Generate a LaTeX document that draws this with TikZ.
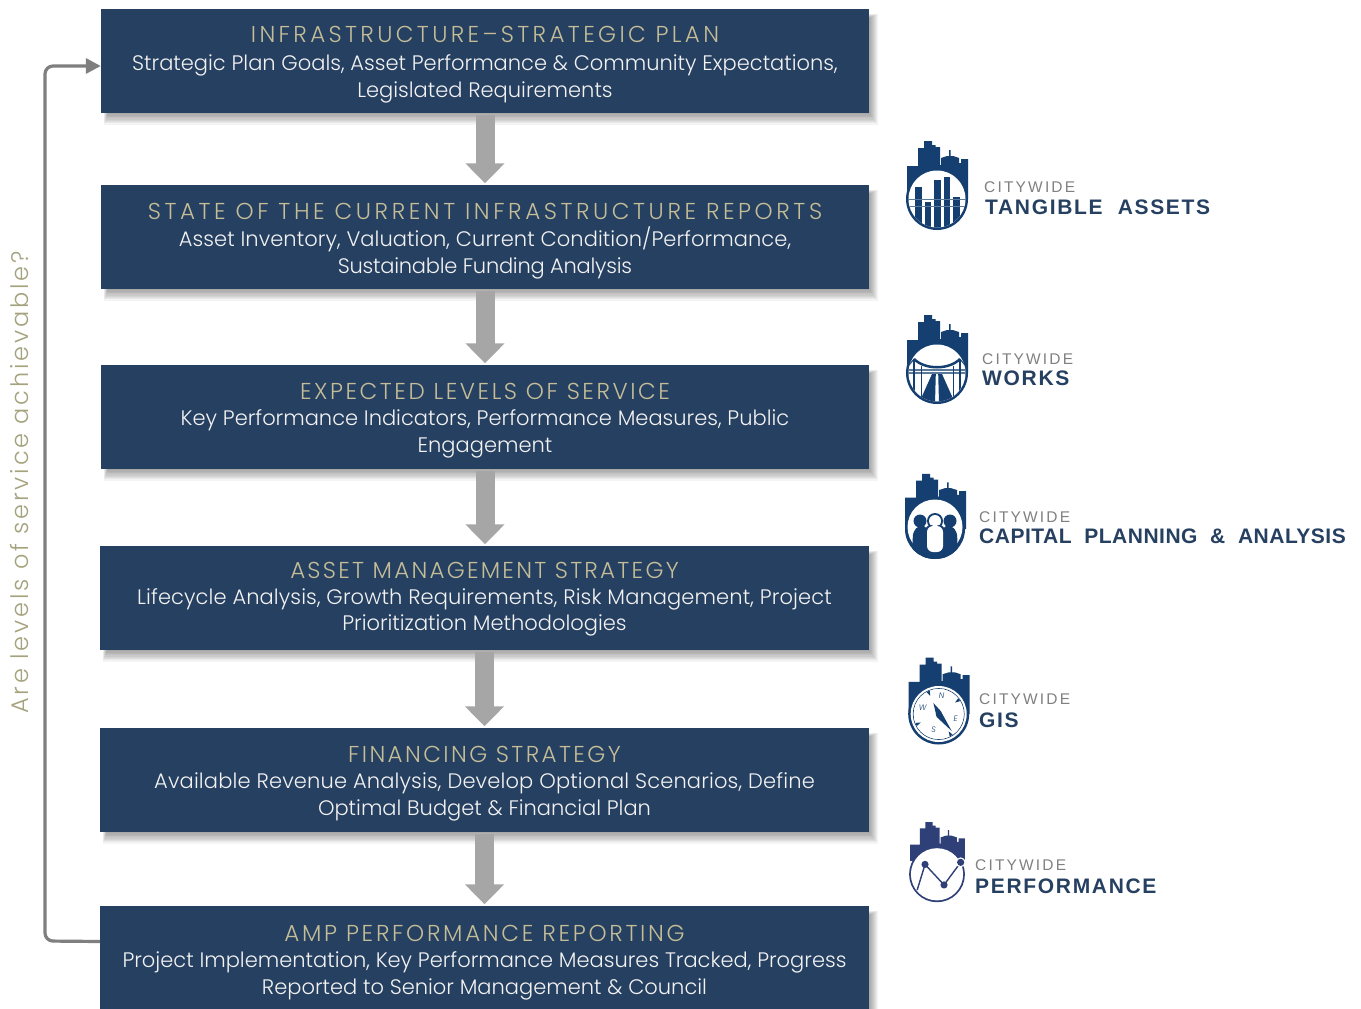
\documentclass[tikz,border=0pt]{standalone}
\usepackage{fontspec}
\usetikzlibrary{arrows.meta}
\setmainfont{Poppins Light}
\newfontfamily\titlefont{Poppins Light}
\newfontfamily\sidefont[LetterSpace=11.7]{Poppins Light}
\newfontfamily\cwfont[LetterSpace=14]{Liberation Sans}
\newfontfamily\prodfont[LetterSpace=8,WordSpace=2]{Liberation Sans Bold}
\definecolor{boxblue}{HTML}{264061}
\definecolor{logoblue}{HTML}{153F70}
\definecolor{perfblue}{HTML}{2F3F77}
\definecolor{khaki}{HTML}{C4BD97}
\definecolor{sidekhaki}{HTML}{A5A27E}
\definecolor{bodywhite}{HTML}{F2F2F2}
\definecolor{flowgrey}{HTML}{A6A6A6}
\definecolor{loopgrey}{HTML}{7F7F7F}
\definecolor{cwgrey}{HTML}{808080}
\definecolor{prodblue}{HTML}{264061}
\tikzset{
  ampbox/.style={fill=boxblue,inner sep=0pt,text=bodywhite,
    font=\fontsize{21}{27}\selectfont},
  flowarrow/.style={draw=flowgrey,line width=19pt,-{Triangle[width=38pt,length=20pt,fill=flowgrey]},shorten >=1.5pt,shorten <=2pt},
  looparrow/.style={draw=loopgrey,line width=3.2pt,rounded corners=8pt,-{Triangle[width=15pt,length=15pt]}},
  cwtext/.style={anchor=west,inner sep=0pt,text=cwgrey,font=\cwfont\fontsize{15.5}{16}\selectfont},
  prodtext/.style={anchor=west,inner sep=0pt,text=prodblue,font=\prodfont\fontsize{21}{22}\selectfont},
  compassletter/.style={text=logoblue,inner sep=0pt,font=\fontsize{8}{8}\selectfont\itshape},
}
% name, x1, y1, x2, y2, title letter space, downward shift x2, title, rest
\newcommand{\ampstep}[9]{%
  \foreach \i in {0,...,9}{%
    \fill[black,opacity=.045] ({#2+7-\i*.5},{#3+9-\i*.5}) rectangle ({#4+\i*1},{#5+\i*1.3});
  }
  \node[ampbox,minimum width={#4-#2},minimum height={#5-#3}] (#1) at ({(#2+#4)/2},{(#3+#5)/2})
    {\parbox{760pt}{\centering\vspace*{#7pt}{\titlefont\color{khaki}\fontsize{23}{28}\selectfont\addfontfeature{LetterSpace=#6}#8}#9}};
}
\newcommand{\skyline}{%
  (-30,0) -- (-30,-33) -- (-19,-33) -- (-19,-51) -- (-13,-51) -- (-13,-58) -- (-5,-58) -- (-5,-54) -- (-1.5,-54) -- (-1.5,-52) -- (3,-52) -- (3,-34) -- (4,-34) -- (4,-41) -- (10,-43) -- (12,-43) -- (12,-49) -- (13.5,-49) -- (13.5,-43) -- (16,-43) -- (22,-41) -- (22,-36) -- (24,-36) -- (24,-40) -- (31,-40) -- (31,0) -- cycle
}
\begin{document}
\begin{tikzpicture}[x=1pt,y=-1pt]
\useasboundingbox (0,0) rectangle (1361,1009);
\fill[white] (0,0) rectangle (1361,1009);

\ampstep{b1}{101}{9}{869}{113}{14.6}{8}{INFRASTRUCTURE–STRATEGIC PLAN}{\\[1pt] Strategic Plan Goals, Asset Performance \& Community Expectations,\\ Legislated Requirements}
\ampstep{b2}{101}{185}{869}{289}{15.5}{8}{STATE OF THE CURRENT INFRASTRUCTURE REPORTS}{\\ {\addfontfeature{LetterSpace=.3}Asset Inventory, Valuation, Current Condition/Performance,}\\ {\addfontfeature{LetterSpace=-1.2}Sustainable Funding Analysis}}
\ampstep{b3}{101}{365}{869}{469}{11}{8}{EXPECTED LEVELS OF SERVICE}{\\[-1pt] Key Performance Indicators, Performance Measures, Public\\ Engagement}
\ampstep{b4}{100}{546}{869}{650}{9.8}{2}{ASSET MANAGEMENT STRATEGY}{\\[-1pt] {\addfontfeature{LetterSpace=.5}Lifecycle Analysis, Growth Requirements, Risk Management, Project}\\[-1pt] Prioritization Methodologies}
\ampstep{b5}{100}{728}{869}{832}{10.4}{8}{FINANCING STRATEGY}{\\[-1pt] {\addfontfeature{LetterSpace=.77}Available Revenue Analysis, Develop Optional Scenarios, Define}\\ Optimal Budget \& Financial Plan}
\ampstep{b6}{100}{906}{869}{1010}{11.7}{10}{AMP PERFORMANCE REPORTING}{\\[-1pt] Project Implementation, Key Performance Measures Tracked, Progress\\ Reported to Senior Management \& Council}

\draw[flowarrow] (b1.south) -- (b1.south |- b2.north);
\draw[flowarrow] (b2.south) -- (b2.south |- b3.north);
\draw[flowarrow] (b3.south) -- (b3.south |- b4.north);
\draw[flowarrow] (b4.south) -- (b4.south |- b5.north);
\draw[flowarrow] (b5.south) -- (b5.south |- b6.north);

\coordinate (loopb) at (45,941);
\coordinate (loopt) at (45,66);
\draw[looparrow] ([yshift=16.5pt]b6.west) -- (loopb) -- (loopt) -- ([yshift=-5pt]b1.west);
\node[rotate=90,text=sidekhaki,inner sep=0pt,font=\sidefont\fontsize{24}{26}\selectfont] (side) at (20,482.5) {Are levels of service achievable?};

% Logo 1: tangible assets
\begin{scope}[shift={(937,199)}]
  \fill[logoblue] \skyline;
  \fill[logoblue] (0,0) circle[radius=31];
  \fill[white] (0,0) circle[radius=28.5];
  \begin{scope}
    \clip (0,0) circle[radius=28.5];
    \fill[logoblue] (-22,-12) rectangle (-15,30);
    \fill[logoblue] (-12.5,3) rectangle (-6,30);
    \fill[logoblue] (-3,-19) rectangle (4,30);
    \fill[logoblue] (7,-22) rectangle (13,30);
    \fill[logoblue] (16,-2) rectangle (23,30);
    \draw[logoblue!70,line width=.9pt] (-30,0) -- (30,0) (-30,7) -- (30,7);
  \end{scope}
\end{scope}
\node[cwtext] (cw1) at (984,187.5) {CITYWIDE};
\node[prodtext] (pr1) at (985,207.5) {TANGIBLE ASSETS};

% Logo 2: works
\begin{scope}[shift={(937,373)}]
  \fill[logoblue] \skyline;
  \fill[logoblue] (0,0) circle[radius=31];
  \fill[white] (0,0) circle[radius=28.5];
  \begin{scope}
    \clip (0,0) circle[radius=28.5];
    \draw[logoblue!70,line width=1.2pt] (-31,-3) -- (31,-3) (-31,0) -- (31,0);
    \draw[logoblue,line width=2.5pt] (-23,-14) .. controls (-12,-3) and (12,-3) .. (23,-14);
    \draw[logoblue,line width=1pt] (-31,-4) -- (-23,-14) (31,-4) -- (23,-14);
    \draw[logoblue,line width=1.5pt] (-23,-14) -- (-23,30) (23,-14) -- (23,30);
    \draw[logoblue,line width=.8pt] (-16,-7) -- (-16,30) (16,-7) -- (16,30);
    \fill[logoblue] (-5,1) -- (-1.2,1) -- (-2,30) -- (-18,30) -- cycle;
    \fill[logoblue] (1.2,1) -- (5,1) -- (18,30) -- (2,30) -- cycle;
  \end{scope}
\end{scope}
\node[cwtext] (cw2) at (982,359.5) {CITYWIDE};
\node[prodtext] (pr2) at (982,378.5) {WORKS};

% Logo 3: capital planning
\begin{scope}[shift={(935,529)}]
  \fill[logoblue,yscale=.95] \skyline;
  \fill[logoblue] (0,0) circle[radius=30];
  \begin{scope}
    \clip (0,0) circle[radius=30];
    \fill[white] (0,-2) circle[radius=27.5];
    \fill[logoblue] (-30,12) .. controls (-22,22) and (-12,28) .. (0,28) .. controls (12,28) and (22,22) .. (30,12) -- (30,32) -- (-30,32) -- cycle;
    \fill[logoblue] (-15,-8) circle[radius=6.5];
    \fill[logoblue] (15,-8) circle[radius=6.5];
    \fill[logoblue,rounded corners=5pt] (-23,30) -- (-22,2) -- (-15,-4) -- (-7,-2) -- (-7,30) -- cycle;
    \fill[logoblue,rounded corners=5pt] (23,30) -- (22,2) -- (15,-4) -- (7,-2) -- (7,30) -- cycle;
    \fill[logoblue] (0,-8) circle[radius=8];
    \fill[white] (0,-8) circle[radius=6];
    \fill[logoblue,rounded corners=6pt] (-10,26) rectangle (10,-4);
    \fill[white] (0,-8) circle[radius=5.5];
    \fill[white,rounded corners=6pt] (-8,23) rectangle (8,-3);
  \end{scope}
\end{scope}
\node[cwtext] (cw3) at (979,517) {CITYWIDE};
\node[prodtext] (pr3) at (979,536.5) {\addfontfeature{LetterSpace=2.4}CAPITAL PLANNING \& ANALYSIS};

% Logo 4: GIS
\begin{scope}[shift={(938.7,714)}]
  \fill[logoblue,yscale=.97] \skyline;
  \fill[logoblue] (0,0) circle[radius=30.5];
  \fill[white] (0,0) circle[radius=28];
  \draw[logoblue,line width=.7pt] (0,0) circle[radius=25.5];
  \fill[white] (0,0) circle[radius=25];
  \foreach \a in {-35,60,155,245}{
    \fill[logoblue] (\a-4:25) -- (\a+4:25) -- (\a:20) -- cycle;
  }
  \node[compassletter] (cn) at (3,-18) {N};
  \node[compassletter] (ce) at (17,4.7) {E};
  \node[compassletter] (cs) at (-5,15.7) {S};
  \node[compassletter] (cw) at (-16,-6) {W};
  \fill[logoblue] (-5.3,-11) -- (2,-3) -- (13,17) -- (-2,3) -- cycle;
  \fill[logoblue] (0,0) circle[radius=3];
\end{scope}
\node[cwtext] (cw4) at (979,699.5) {CITYWIDE};
\node[prodtext] (pr4) at (979,720) {GIS};

% Logo 5: performance
\begin{scope}[shift={(937,874.3)},scale=.9]
  \fill[perfblue] \skyline;
  \fill[white] (-33,-15) rectangle (33,8);
  \fill[perfblue] (0,0) circle[radius=31];
  \fill[white] (0,0) circle[radius=29];
  \draw[perfblue,line width=1.4pt] (-22,17.4) -- (-13.3,-11) -- (7.8,11.8) -- (26.3,-13.3);
  \fill[perfblue] (-13.3,-11) circle[radius=4];
  \fill[perfblue] (7.8,11.8) circle[radius=4];
  \fill[white] (26.3,-13.3) circle[radius=5.5];
  \fill[perfblue] (26.3,-13.3) circle[radius=4];
\end{scope}
\node[cwtext] (cw5) at (975,865) {CITYWIDE};
\node[prodtext] (pr5) at (975,886.5) {PERFORMANCE};
\end{tikzpicture}
\end{document}
